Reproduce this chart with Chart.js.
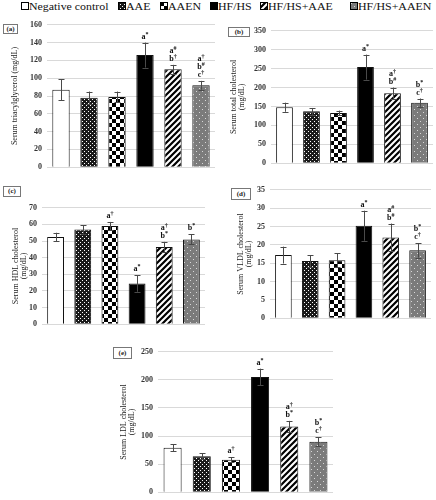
<!DOCTYPE html>
<html lang="en">
<head>
<meta charset="UTF-8">
<title>Serum lipid profile</title>
<script src="https://cdn.jsdelivr.net/npm/chart.js"></script>
<style>
    body { margin: 0; background: #fff; overflow: hidden; }
    #page { position: relative; width: 436px; height: 500px; overflow: hidden; font-family: "Liberation Serif", serif; }
    canvas.chart { position: absolute; }
    .tag {
        position: absolute;
        border: 1px solid #777;
        font: bold 7px "Liberation Serif", serif;
        color: #222;
        text-align: center;
        box-sizing: border-box;
    }
    .item { position: absolute; top: 0px; font-size: 11px; line-height: 13px; white-space: nowrap; color: #111; }
    .item canvas { position: absolute; left: 0; top: 2px; }
    .item span { position: absolute; top: 0; transform: scaleX(1.08); transform-origin: left center; }
</style>
</head>
<body>
<div id="page">
    <div id="legend"></div>

    <div class="tag" style="left:3px;top:24px;width:15px;height:10px;line-height:8px;">(a)</div>
    <div class="tag" style="left:228px;top:27px;width:22px;height:10px;line-height:8px;">(b)</div>
    <div class="tag" style="left:3px;top:186px;width:18px;height:11px;line-height:9px;">(c)</div>
    <div class="tag" style="left:231px;top:188px;width:20px;height:12px;line-height:10px;">(d)</div>
    <div class="tag" style="left:113px;top:347px;width:19px;height:12px;line-height:10px;">(e)</div>

    <canvas class="chart" id="chartA"></canvas>
    <canvas class="chart" id="chartB"></canvas>
    <canvas class="chart" id="chartC"></canvas>
    <canvas class="chart" id="chartD"></canvas>
    <canvas class="chart" id="chartE"></canvas>
</div>

<script>
    // groups (same order in every panel)
    const groups = ['Negative control', 'AAE', 'AAEN', 'HF/HS', 'HF/HS+AAE', 'HF/HS+AAEN'];

    // (a) triacylglycerol
    const tgMean = [87, 78, 79, 126, 110, 92];
    const tgSd = [12, 7, 6, 14, 5, 5];
    const tgNotes = [[], [], [], ['a*'], ['a#', 'b†'], ['a†', 'b#', 'c†']];

    // (b) total cholesterol
    const tcMean = [148, 137, 133, 254, 185, 160];
    const tcSd = [12, 9, 6, 33, 15, 11];
    const tcNotes = [[], [], [], ['a*'], ['a†', 'b#'], ['b*', 'c†']];

    // (c) HDL cholesterol
    const hdlMean = [52.5, 57, 59, 24.5, 46.5, 51];
    const hdlSd = [2.5, 2.5, 2.5, 5, 3, 3];
    const hdlNotes = [[], [], ['a†'], ['a*'], ['a†', 'b*'], ['b*']];

    // (d) VLDL cholesterol
    const vldlMean = [17.2, 15.6, 15.8, 25.2, 22, 18.5];
    const vldlSd = [2.3, 1.6, 1.9, 4.1, 3.8, 2];
    const vldlNotes = [[], [], [], ['a*'], ['a#', 'b#'], ['b*', 'c†']];

    // (e) LDL cholesterol
    const ldlMean = [79, 64, 58, 205, 117, 90];
    const ldlSd = [6, 5, 4, 15, 10, 8];
    const ldlNotes = [[], [], ['a†'], ['a*'], ['a†', 'b*'], ['b*', 'c†']];

    // fill patterns for the six groups
    function makePattern(kind) {
        const c = document.createElement('canvas');
        const g = c.getContext('2d');
        if (kind === 'white') {
            c.width = c.height = 2;
            g.fillStyle = '#fff'; g.fillRect(0, 0, 2, 2);
        } else if (kind === 'fine') {
            c.width = c.height = 4;
            g.fillStyle = '#1a1a1a'; g.fillRect(0, 0, 4, 4);
            g.fillStyle = '#fff';
            g.fillRect(0, 0, 1, 1); g.fillRect(2, 2, 1, 1);
        } else if (kind === 'checker') {
            c.width = c.height = 8;
            g.fillStyle = '#fff'; g.fillRect(0, 0, 8, 8);
            g.fillStyle = '#000';
            g.fillRect(0, 0, 4, 4); g.fillRect(4, 4, 4, 4);
        } else if (kind === 'black') {
            c.width = c.height = 2;
            g.fillStyle = '#000'; g.fillRect(0, 0, 2, 2);
        } else if (kind === 'stripes') {
            c.width = c.height = 6;
            g.fillStyle = '#fff'; g.fillRect(0, 0, 6, 6);
            g.strokeStyle = '#000'; g.lineWidth = 2.2;
            g.beginPath();
            g.moveTo(-1, 7); g.lineTo(7, -1);
            g.moveTo(-4, 4); g.lineTo(4, -4);
            g.moveTo(2, 10); g.lineTo(10, 2);
            g.stroke();
        } else if (kind === 'dots') {
            c.width = c.height = 6;
            g.fillStyle = '#7b7b7b'; g.fillRect(0, 0, 6, 6);
            g.fillStyle = '#d8d8d8';
            g.fillRect(1, 1, 1, 1); g.fillRect(4, 4, 1, 1);
        }
        return g.createPattern(c, 'repeat');
    }

    const kinds = ['white', 'fine', 'checker', 'black', 'stripes', 'dots'];
    const fills = kinds.map(makePattern);

    // legend
    const legendPos = [21, 118, 160, 210, 260, 350];
    const legendEl = document.getElementById('legend');
    groups.forEach((name, i) => {
        const item = document.createElement('div');
        item.className = 'item';
        item.style.left = legendPos[i] + 'px';
        const sw = document.createElement('canvas');
        sw.width = 8; sw.height = 8;
        const g = sw.getContext('2d');
        g.fillStyle = fills[i]; g.fillRect(0, 0, 8, 8);
        g.strokeStyle = '#000'; g.lineWidth = 1; g.strokeRect(0.5, 0.5, 7, 7);
        const label = document.createElement('span');
        label.style.left = '8px';
        label.textContent = name;
        item.appendChild(sw);
        item.appendChild(label);
        legendEl.appendChild(item);
    });

    function drawNote(ctx, note, cx, baseY) {
        const letter = note[0];
        const sym = note.slice(1);
        ctx.font = 'bold 8px "Liberation Serif"';
        const w1 = ctx.measureText(letter).width;
        ctx.font = 'bold 6px "Liberation Serif"';
        const w2 = ctx.measureText(sym).width;
        const x0 = cx - (w1 + w2) / 2;
        ctx.fillStyle = '#111';
        ctx.textAlign = 'left';
        ctx.textBaseline = 'alphabetic';
        ctx.font = 'bold 8px "Liberation Serif"';
        ctx.fillText(letter, x0, baseY);
        ctx.font = 'bold 6px "Liberation Serif"';
        ctx.fillText(sym, x0 + w1, baseY - 3);
    }

    const errorBars = {
        id: 'errorBars',
        afterDatasetsDraw(chart) {
            const ds = chart.data.datasets[0];
            const meta = chart.getDatasetMeta(0);
            const y = chart.scales.y;
            const ctx = chart.ctx;
            ctx.save();
            meta.data.forEach((bar, i) => {
                const hi = y.getPixelForValue(ds.data[i] + ds.errors[i]);
                const lo = y.getPixelForValue(ds.data[i] - ds.errors[i]);
                const x = Math.round(bar.x) + 0.5;
                ctx.strokeStyle = '#4a4a4a';
                ctx.lineWidth = 1;
                ctx.beginPath();
                ctx.moveTo(x, hi); ctx.lineTo(x, lo);
                ctx.moveTo(x - 3, Math.round(hi) + 0.5); ctx.lineTo(x + 3, Math.round(hi) + 0.5);
                ctx.moveTo(x - 3, Math.round(lo) + 0.5); ctx.lineTo(x + 3, Math.round(lo) + 0.5);
                ctx.stroke();
                const notes = ds.notes[i];
                notes.forEach((n, k) => {
                    drawNote(ctx, n, bar.x, hi - 4 - (notes.length - 1 - k) * 8);
                });
            });
            ctx.restore();
        }
    };

    function chartConfig(mean, sd, notes, yMax, step, title, axisWidth, titlePad) {
        return {
            type: 'bar',
            data: {
                labels: groups,
                datasets: [{
                    data: mean,
                    errors: sd,
                    notes: notes,
                    backgroundColor: fills,
                    borderColor: '#111',
                    borderWidth: 1,
                    barPercentage: 0.62,
                    categoryPercentage: 1
                }]
            },
            options: {
                responsive: false,
                animation: false,
                layout: { padding: 0 },
                plugins: { legend: { display: false }, tooltip: { enabled: false } },
                scales: {
                    x: { display: false },
                    y: {
                        min: 0,
                        max: yMax,
                        ticks: {
                            stepSize: step,
                            padding: 5,
                            color: '#333',
                            font: { family: 'Liberation Serif', size: 8, weight: 'bold' }
                        },
                        grid: { color: '#d9d9d9', drawTicks: false },
                        border: { display: false },
                        title: {
                            display: true,
                            text: title,
                            color: '#222',
                            padding: { top: titlePad, bottom: 0 },
                            font: { family: 'Liberation Serif', size: 8, lineHeight: 1 }
                        },
                        afterFit(scale) { scale.width = axisWidth; }
                    }
                }
            },
            plugins: [errorBars]
        };
    }

    // place a panel so that its plot area lands on the given box
    function placeChart(id, canvasLeft, area, mean, sd, notes, yMax, step, title, titlePad) {
        const canvas = document.getElementById(id);
        const axisWidth = area.left - canvasLeft;
        canvas.width = area.right - canvasLeft;
        canvas.height = 200;
        let chart = new Chart(canvas, chartConfig(mean, sd, notes, yMax, step, title, axisWidth, titlePad));
        const offTop = chart.chartArea.top;
        const offBottom = 200 - chart.chartArea.bottom;
        chart.destroy();
        canvas.width = area.right - canvasLeft;
        canvas.height = (area.bottom - area.top) + offTop + offBottom;
        canvas.style.left = canvasLeft + 'px';
        canvas.style.top = (area.top - offTop) + 'px';
        return new Chart(canvas, chartConfig(mean, sd, notes, yMax, step, title, axisWidth, titlePad));
    }

    placeChart('chartA', 0, { left: 47, right: 215, top: 25, bottom: 168 },
        tgMean, tgSd, tgNotes, 160, 20, 'Serum triacylglycerol (mg/dL)', 11);
    placeChart('chartB', 218, { left: 271, right: 433, top: 31, bottom: 164 },
        tcMean, tcSd, tcNotes, 350, 50, ['Serum total cholesterol', '(mg/dL)'], 12);
    placeChart('chartC', 0, { left: 42, right: 205, top: 208, bottom: 325 },
        hdlMean, hdlSd, hdlNotes, 70, 10, ['Serum HDL cholesterol', '(mg/dL)'], 12);
    placeChart('chartD', 218, { left: 270, right: 431, top: 190, bottom: 319 },
        vldlMean, vldlSd, vldlNotes, 35, 5, ['Serum VLDL cholesterol', '(mg/dL)'], 19);
    placeChart('chartE', 100, { left: 158, right: 333, top: 352, bottom: 493 },
        ldlMean, ldlSd, ldlNotes, 250, 50, ['Serum LDL cholesterol', '(mg/dL)'], 20);
</script>
</body>
</html>
